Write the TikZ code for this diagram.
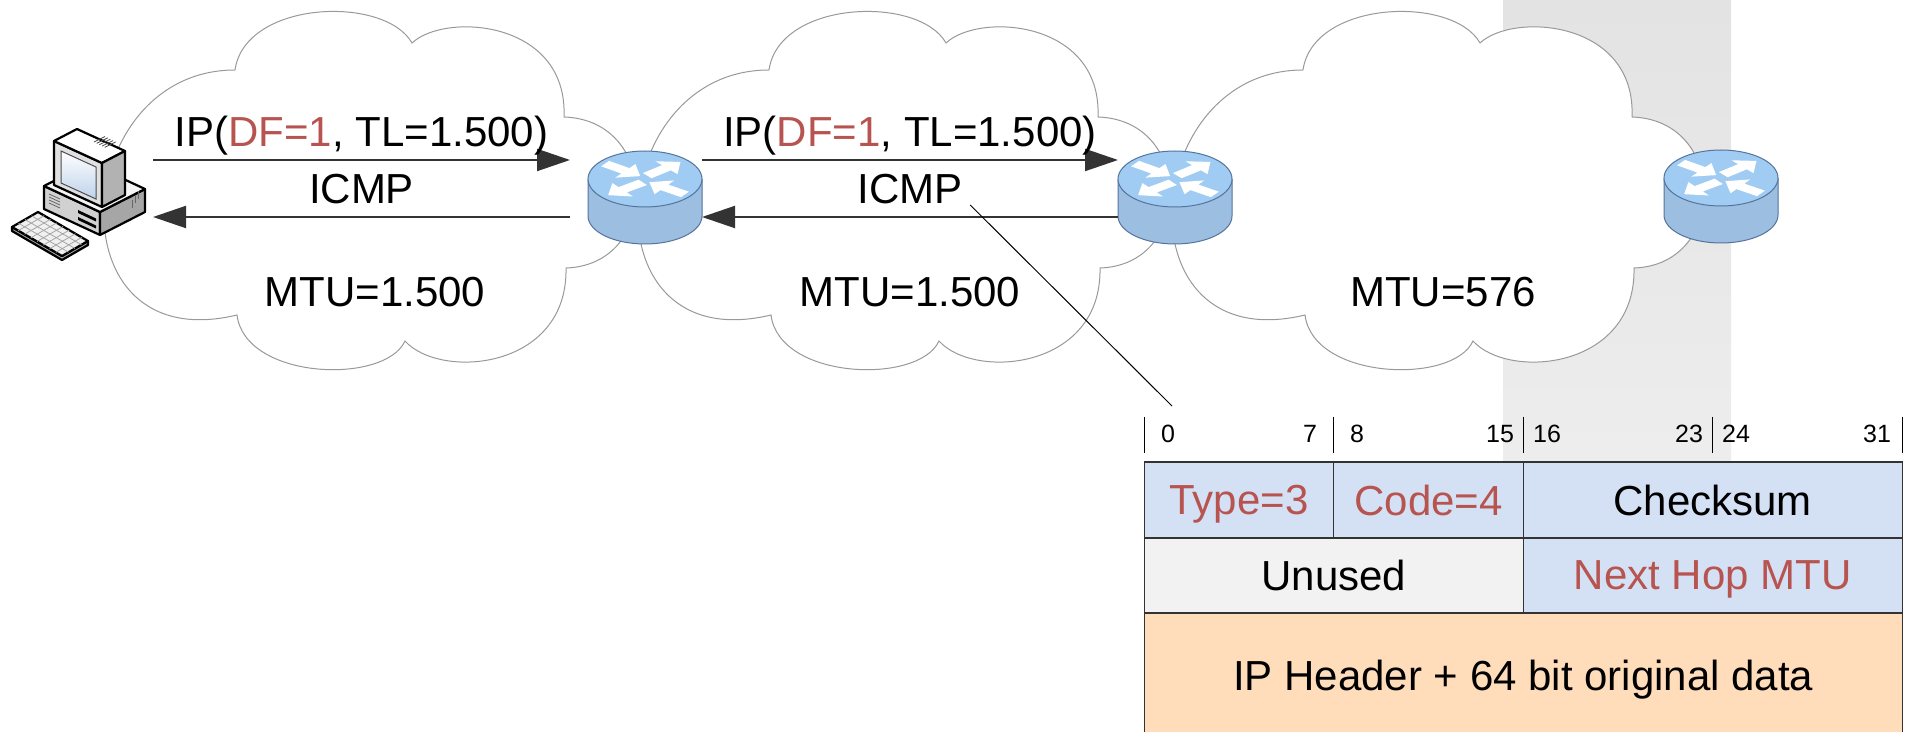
\documentclass[tikz,border=0pt]{standalone}
\usepackage{fontspec}
\setmainfont{Liberation Sans}
\usetikzlibrary{arrows.meta, positioning, calc}

\definecolor{routertop}{RGB}{160,204,243}
\definecolor{routerside}{RGB}{155,190,225}
\definecolor{routerline}{RGB}{85,115,155}
\definecolor{fieldblue}{RGB}{212,225,245}
\definecolor{fieldgray}{RGB}{242,242,242}
\definecolor{fieldorange}{RGB}{255,220,186}
\definecolor{flagred}{RGB}{184,84,80}
\definecolor{screenblue}{RGB}{190,210,235}

\tikzstyle{netcloud} = [
    draw=black!40,
    fill=white,
    line width=0.5pt
]
\tikzstyle{router} = [
    rectangle,
    minimum width=57pt,
    minimum height=47pt,
    inner sep=0pt,
    outer sep=0pt
]
\tikzstyle{host} = [
    rectangle,
    minimum width=74pt,
    minimum height=70pt,
    inner sep=0pt,
    outer sep=0pt
]
\tikzstyle{arrow} = [black!80, line width=1pt, -{Triangle[length=16.5pt, width=11pt]}]
\tikzstyle{msg} = [
    above,
    text=black,
    font=\fontsize{21}{25}\selectfont,
    inner ysep=6.25pt,
    text depth=0pt
]
\tikzstyle{mtu} = [font=\fontsize{21}{25}\selectfont, text depth=0pt]
\tikzstyle{field} = [
    rectangle,
    draw=black!80,
    line width=0.6pt,
    inner sep=0pt,
    outer sep=0pt,
    text depth=0pt,
    font=\fontsize{21}{25}\selectfont
]
\tikzstyle{bitno} = [font=\fontsize{12.5}{15}\selectfont, inner sep=0pt]
\tikzstyle{tick} = [black, line width=0.5pt]
\tikzstyle{leader} = [black, line width=0.5pt]
\tikzstyle{case} = [draw=black, line width=1.1pt, line join=round]

\newcommand{\flag}[1]{\textcolor{flagred}{#1}}

% cylinder with the four arrows on its lid
\newcommand{\drawrouter}[1]{%
  \begin{scope}[shift={(#1.center)}]
    \fill[routerside] (-57,-19) -- (-57,18)
      arc[start angle=180, end angle=0, x radius=57, y radius=28] -- (57,-19) -- cycle;
    \draw[routerline, line width=0.5pt] (-57,-19) -- (-57,18)
      arc[start angle=180, end angle=0, x radius=57, y radius=28] -- (57,-19);
    \filldraw[fill=routertop, draw=routerline, line width=0.5pt]
      (0,-19) ellipse [x radius=57, y radius=28];
    \begin{scope}[shift={(0,-19)}, xscale=57, yscale=28]
      \foreach \tx/\ty/\ang in {-0.7/-0.55/-36, 0.04/-0.12/40, -0.04/0.12/217, 0.7/0.55/145}
        \fill[white, shift={(\tx,\ty)}, rotate=\ang]
          (0,-0.12) -- (0.44,-0.12) -- (0.44,-0.3) -- (0.76,0)
          -- (0.44,0.3) -- (0.44,0.12) -- (0,0.12) -- cycle;
    \end{scope}
  \end{scope}}

\tikzset{
  cloudpic/.pic={
    \path[netcloud] (235,70)
      .. controls (245,0) and (385,-5) .. (412,43)
      .. controls (445,12) and (568,20) .. (564,117)
      .. controls (660,120) and (660,265) .. (566,268)
      .. controls (568,370) and (440,380) .. (405,341)
      .. controls (385,385) and (245,380) .. (237,315)
      .. controls (50,360) and (70,70) .. (235,70) -- cycle;
  }
}

\begin{document}
\begin{tikzpicture}[x=0.5pt, y=-0.5pt]

\useasboundingbox (0,0) rectangle (1912,732);

\shade[top color=black!11, bottom color=black!7] (1503,0) rectangle (1731,462);

\pic at (0,0) {cloudpic};
\pic at (534,0) {cloudpic};
\pic at (1068,0) {cloudpic};

\node (mtu1) [mtu] at (375,292) {MTU=1.500};
\node (mtu2) [mtu] at (910,292) {MTU=1.500};
\node (mtu3) [mtu] at (1443,292) {MTU=576};

\node (r1) [router] at (645,198) {};
\node (r2) [router] at (1175,198) {};
\node (r3) [router] at (1721,197) {};
\drawrouter{r1}
\drawrouter{r2}
\drawrouter{r3}

\node (pc) [host] at (79,198) {};

% base unit
\filldraw[case, fill=black!18] (44,186) -- (100,212) -- (100,235) -- (44,209) -- cycle;
\filldraw[case, fill=black!35] (100,212) -- (145,189) -- (145,212) -- (100,235) -- cycle;
\filldraw[case, fill=black!4] (44,186) -- (89,163) -- (145,189) -- (100,212) -- cycle;
\fill[black] (78,210) -- (96,218.5) -- (96,221.5) -- (78,213) -- cycle;
\fill[black] (78,217) -- (96,225.5) -- (96,228.5) -- (78,220) -- cycle;
\foreach \d in {0,3,6,9}
  \draw[black!60, line width=0.4pt] (49,194+\d) -- (60,199+\d);
\foreach \d in {0,3,6}
  \draw[black!60, line width=0.4pt] (132+\d,200-1.5*\d) -- (132+\d,208-1.5*\d);

% monitor
\filldraw[case, fill=black!12] (54,141) -- (102,163) -- (102,207) -- (54,185) -- cycle;
\filldraw[case, fill=white] (54,141) -- (77,129) -- (125,151) -- (102,163) -- cycle;
\filldraw[case, fill=black!30] (102,163) -- (125,151) -- (125,195) -- (102,207) -- cycle;
\shade[top color=white, bottom color=screenblue, draw=black!70, line width=0.5pt]
  (61,151) -- (96,167) -- (96,199) -- (61,183) -- cycle;
\foreach \d in {0,3,6,9,12}
  \draw[black!70, line width=0.4pt] (94+\d*0.9,142+\d*0.45) -- (105+\d*0.9,136.5+\d*0.45);

% keyboard
\filldraw[case, fill=black!35] (12,227) -- (12,231) -- (62,260) -- (88,245) -- (88,241) -- (62,256) -- cycle;
\filldraw[case, fill=black!6] (12,227) -- (38,212) -- (88,241) -- (62,256) -- cycle;
\foreach \t in {0.25,0.5,0.75}
  \draw[black!35, line width=0.4pt] ($(12,227)!\t!(38,212)$) -- ($(62,256)!\t!(88,241)$);
\foreach \t in {0.125,0.25,0.375,0.5,0.625,0.75,0.875}
  \draw[black!35, line width=0.4pt] ($(12,227)!\t!(62,256)$) -- ($(38,212)!\t!(88,241)$);

\draw [arrow] ($(pc.east)+(0,-38)$) -- node[msg] (ip1) {IP(\flag{DF=1}, TL=1.500)} ($(r1.west)+(-18,-38)$);
\draw [arrow] ($(r1.west)+(-18,19)$) -- node[msg] (icmp1) {ICMP} ($(pc.east)+(0,19)$);
\draw [arrow] ($(r1.east)+(0,-38)$) -- node[msg] (ip2) {IP(\flag{DF=1}, TL=1.500)} ($(r2.west)+(0,-38)$);
\draw [arrow] ($(r2.west)+(0,19)$) -- node[msg] (icmp2) {ICMP} ($(r1.east)+(0,19)$);

\coordinate (callout) at (1172,406);
\draw [leader] (icmp2.-15) -- (callout);

\node (type) [field, fill=fieldblue, text=flagred, minimum width=94.75pt, minimum height=38pt] at (1239,500) {Type=3};
\node (code) [field, fill=fieldblue, text=flagred, minimum width=94.75pt, minimum height=38pt, right=0pt of type] {Code=4};
\node (checksum) [field, fill=fieldblue, minimum width=189.5pt, minimum height=38pt, right=0pt of code] {Checksum};
\node (unused) [field, fill=fieldgray, minimum width=189.5pt, minimum height=37.5pt, below right=0pt of type.south west] {Unused};
\node (nexthop) [field, fill=fieldblue, text=flagred, minimum width=189.5pt, minimum height=37.5pt, right=0pt of unused] {Next Hop MTU};
\node (payload) [field, fill=fieldorange, minimum width=379pt, minimum height=62pt, below right=0pt of unused.south west] {IP Header + 64 bit original data};

\foreach \x in {1144,1333.5,1523,1712.5,1902}
  \draw [tick] (\x,417) -- (\x,453);
\foreach \x/\bit in {1168/0, 1310/7, 1357/8, 1500/15, 1547/16, 1689/23, 1736/24, 1877/31}
  \node (bit\bit) [bitno] at (\x,434) {\bit};

\end{tikzpicture}
\end{document}
